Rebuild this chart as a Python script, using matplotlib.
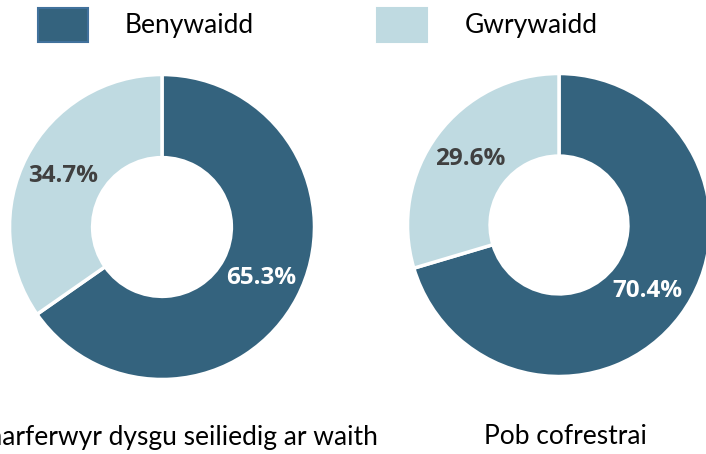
import matplotlib

matplotlib.use("Agg")
import matplotlib.pyplot as plt
from matplotlib.patches import Rectangle

plt.rcParams["font.family"] = ["Lato", "DejaVu Sans"]

DARK = "#34637E"
LIGHT = "#BFDAE1"
TEXT = "#404040"

series = ["Benywaidd", "Gwrywaidd"]
groups = ["Ymarferwyr dysgu seiliedig ar waith", "Pob cofrestrai"]
shares = [
    [65.3, 34.7],
    [70.4, 29.6],
]

W, H = 706, 454
fig = plt.figure(figsize=(W / 100, H / 100), dpi=100)


def px_axes(cx, cy, r):
    # axes box in pixel terms, y measured from top
    return fig.add_axes([(cx - r) / W, (H - cy - r) / H, 2 * r / W, 2 * r / H])


centres = [(162, 227, 154), (559, 225, 153)]
for (cx, cy, r), vals in zip(centres, shares):
    ax = px_axes(cx, cy, r)
    wedges, _, pcts = ax.pie(
        vals, colors=[DARK, LIGHT], startangle=90, counterclock=False,
        radius=1, autopct="%.1f%%", pctdistance=0.73,
        wedgeprops=dict(width=0.545, edgecolor="white", linewidth=2.5),
        textprops=dict(fontsize=17.5, weight="bold", family=["Open Sans", "DejaVu Sans"]),
    )
    pcts[0].set_color("white")
    pcts[1].set_color(TEXT)
    ax.set_xlim(-1.01, 1.01)
    ax.set_ylim(-1.01, 1.01)
    ax.set_aspect("equal")
    ax.axis("off")

# category labels under each donut
fig.text(378 / W, 1 - 437 / H, groups[0], ha="right", va="center", fontsize=19, color="black")
fig.text(565 / W, 1 - 437 / H, groups[1], ha="center", va="center", fontsize=19, color="black")

# legend
for (x0, tx), name, col, ec in zip([(38, 125), (377, 465)], series, [DARK, LIGHT], ["#41719C", LIGHT]):
    fig.patches.append(Rectangle((x0 / W, 1 - 42 / H), 50 / W, 34 / H, transform=fig.transFigure,
                                 facecolor=col, edgecolor=ec, linewidth=1.5))
    fig.text(tx / W, 1 - 25 / H, name, ha="left", va="center", fontsize=19, color="black")

fig.savefig("out.png", dpi=100)
